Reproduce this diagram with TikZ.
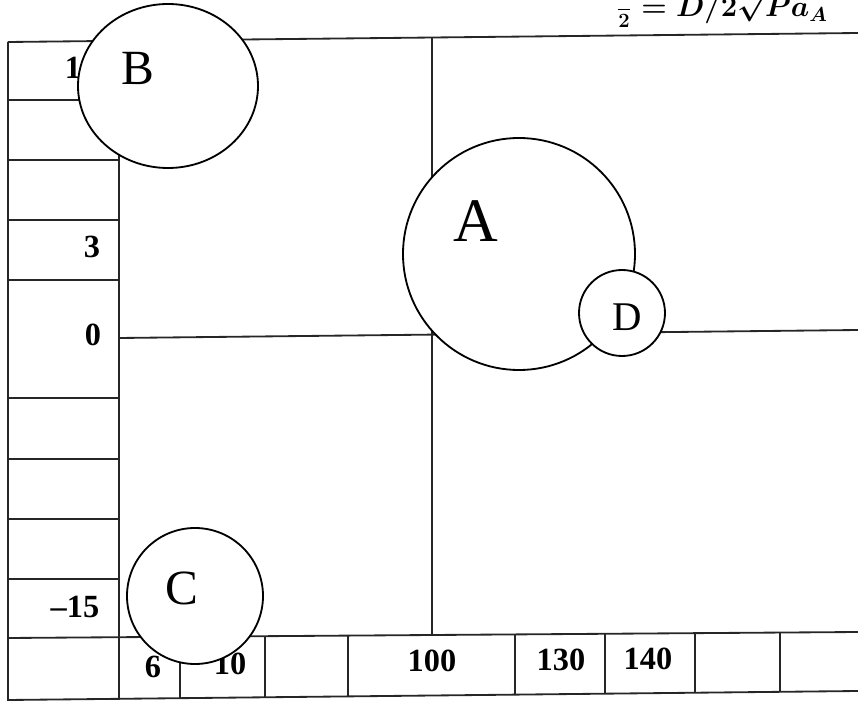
\documentclass[tikz,border=0pt]{standalone}
\usepackage{fontspec}
\setmainfont{Liberation Serif}
\usepackage{amsmath}
\usetikzlibrary{positioning}
\tikzset{
  garis/.style={line width=1.3pt, black!85},
  bola/.style={line width=1.3pt, draw=black, fill=white},
  angka/.style={font=\fontsize{23}{23}\selectfont\bfseries, inner sep=0pt},
  huruf/.style={inner sep=0pt},
  tulisrumus/.style={anchor=base west, inner sep=0pt, font=\fontsize{22}{22}\selectfont\boldmath}
}

\begin{document}
\begin{tikzpicture}[x=0.025cm, y=-0.025cm]
  \useasboundingbox (0,0) rectangle (858,702);
  % rumus di atas, terpotong tepi halaman
  \node[tulisrumus] (rumus) at (616,17) {$\frac{\phantom{d}}{2} = D/2\sqrt{Pa_A}$};

  % garis tabel
  \draw[garis] (8,42) -- (858,33);
  \draw[garis] (8,42) -- (8,700) -- (858,691);
  \draw[garis] (119,42) -- (119,700);
  \draw[garis] (432,37.5) -- (432,635);
  \draw[garis] (119,338) -- (858,330);
  \draw[garis] (8,638) -- (858,632);
  \foreach \y in {100,160,220,280,398,459,519,579}
    \draw[garis] (8,\y) -- (119,\y);
  \foreach \x in {180,265,348,515,605,695,780}
    \draw[garis] (\x,{638-0.007*(\x-8)}) -- (\x,{700-0.0106*(\x-8)});

  % angka
  \node[angka] (n1) at (73,68) {1};
  \node[angka] (n3) at (92,247) {3};
  \node[angka] (n0) at (93,335) {0};
  \node[angka] (n15) at (75,607) {--15};
  \node[angka] (n6) at (153,667) {6};
  \node[angka] (n10) at (230,664) {10};
  \node[angka] (n100) at (432,661) {100};
  \node[angka] (n130) at (561,660) {130};
  \node[angka] (n140) at (648,659) {140};

  % lingkaran
  \draw[bola] (168,86) ellipse [x radius=90, y radius=82];
  \draw[bola] (519,254) circle [radius=116];
  \draw[bola] (622,313) circle [radius=43];
  \draw[bola] (195,596) circle [radius=68];

  \node[huruf, font=\fontsize{44}{44}\selectfont] (A) at (476,221) {A};
  \node[huruf, font=\fontsize{35}{35}\selectfont] (B) at (138,68) {B};
  \node[huruf, font=\fontsize{35}{35}\selectfont] (C) at (182,588) {C};
  \node[huruf, font=\fontsize{29}{29}\selectfont] (D) at (627,317) {D};
\end{tikzpicture}
\end{document}
